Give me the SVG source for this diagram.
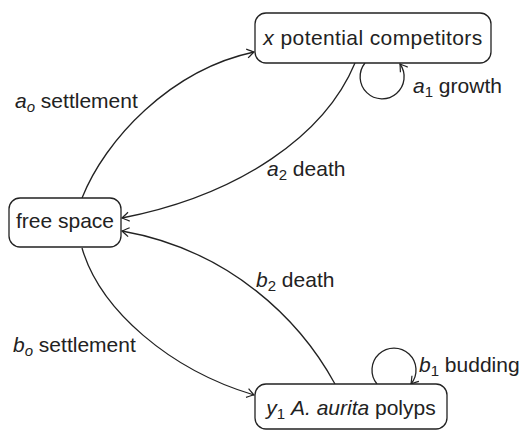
<svg xmlns="http://www.w3.org/2000/svg" width="522" height="431" viewBox="0 0 522 431">
<style>
  .box { fill: #fff; stroke: #222; stroke-width: 1.3; }
  .edge { fill: none; stroke: #222; stroke-width: 1.3; marker-end: url(#arr); }
  text { font-family: "Liberation Sans", Arial, sans-serif; font-size: 21px; fill: #222; }
  .it { font-style: italic; }
  .sub { font-size: 15px; }
</style>
<defs>
  <marker id="arr" viewBox="-10 -6 12 12" markerWidth="12" markerHeight="12" refX="0" refY="0" orient="auto" markerUnits="userSpaceOnUse">
    <path d="M-7,-4.5 Q-2,-1.2 0,0 Q-2,1.2 -7,4.5" fill="none" stroke="#222" stroke-width="1.2"/>
  </marker>
</defs>
<rect width="522" height="431" fill="#fff"/>
<g id="connectors">
  <path class="edge" d="M82,198 C105,140 170,70 254,52"/>
  <path class="edge" d="M355,63 C325,135 240,195 122,218"/>
  <path class="edge" d="M82,248 C100,310 170,370 254,395"/>
  <path class="edge" d="M335,384 C300,320 230,250 122,231"/>
  <path class="edge" d="M365,63 A22,22 0 1 0 400,64"/>
  <path class="edge" d="M377,384 A22,22 0 1 1 411,384"/>
</g>
<g id="labels">
  <text x="15" y="108"><tspan class="it">a</tspan><tspan class="sub it" dy="4">o</tspan><tspan dy="-4"> settlement</tspan></text>
  <text x="413" y="93"><tspan class="it">a</tspan><tspan class="sub" dy="4">1</tspan><tspan dy="-4"> growth</tspan></text>
  <text x="267" y="176"><tspan class="it">a</tspan><tspan class="sub" dy="4">2</tspan><tspan dy="-4"> death</tspan></text>
  <text x="256" y="287"><tspan class="it">b</tspan><tspan class="sub" dy="4">2</tspan><tspan dy="-4"> death</tspan></text>
  <text x="13" y="352"><tspan class="it">b</tspan><tspan class="sub it" dy="4">o</tspan><tspan dy="-4"> settlement</tspan></text>
  <text x="419" y="372"><tspan class="it">b</tspan><tspan class="sub" dy="4">1</tspan><tspan dy="-4"> budding</tspan></text>
</g>
<g id="node-competitors">
  <rect class="box" x="255" y="13" width="236" height="50" rx="11"/>
  <text x="373" y="45" text-anchor="middle" letter-spacing="0.4"><tspan class="it">x</tspan> potential competitors</text>
</g>
<g id="node-free">
  <rect class="box" x="9" y="198" width="112" height="49" rx="11"/>
  <text x="65" y="228" text-anchor="middle">free space</text>
</g>
<g id="node-polyps">
  <rect class="box" x="255" y="384" width="192" height="45" rx="11"/>
  <text x="351" y="415" text-anchor="middle"><tspan class="it">y</tspan><tspan class="sub" dy="4">1</tspan><tspan dy="-4"> </tspan><tspan class="it">A. aurita</tspan> polyps</text>
</g>
</svg>
